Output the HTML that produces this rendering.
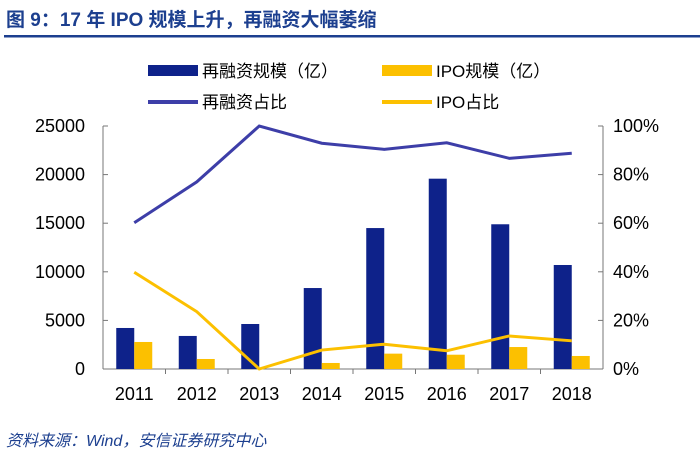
<!DOCTYPE html>
<html><head><meta charset="utf-8"><style>
body{margin:0;background:#fff;width:700px;height:460px;overflow:hidden;font-family:"Liberation Sans","Noto Sans CJK SC",sans-serif}
</style></head><body>
<svg id="c" width="700" height="460" xmlns="http://www.w3.org/2000/svg">
<text x="6" y="26" font-size="19" font-weight="bold" fill="#1c3f8f" font-family="Liberation Sans,Noto Sans CJK SC,sans-serif">图 9：17 年 IPO 规模上升，再融资大幅萎缩</text>
<rect x="4" y="35" width="696" height="2.5" fill="#1c3f8f"/>
<g font-size="17" fill="#000">
<rect x="148" y="65" width="50" height="11" fill="#0e228a"/>
<text x="202" y="77">再融资规模（亿）</text>
<rect x="382" y="65" width="50" height="11" fill="#fcc000"/>
<text x="436" y="77">IPO规模（亿）</text>
<rect x="148" y="100" width="50" height="4" fill="#3d3ea8"/>
<text x="202" y="108">再融资占比</text>
<rect x="382" y="100" width="50" height="4" fill="#fcc000"/>
<text x="436" y="108">IPO占比</text>
</g>
<g id="plot"></g>
<text x="6" y="446" font-size="16" font-style="italic" fill="#1c3f8f">资料来源：Wind，安信证券研究中心</text>
</svg>
<script>
const categories=["2011","2012","2013","2014","2015","2016","2017","2018"];
const refinance=[4220,3400,4630,8330,14500,19580,14890,10700];
const ipo=[2780,1030,0,620,1580,1470,2260,1340];
const refinanceShare=[60.2,77,100,92.9,90.4,93.1,86.7,88.8];
const ipoShare=[39.8,23.6,0,7.8,10.2,7.5,13.6,11.6];
const leftTicks=[0,5000,10000,15000,20000,25000];
const rightTicks=[0,20,40,60,80,100];
const X0=103,X1=603,Y0=369,Y1=126;
const NS="http://www.w3.org/2000/svg";
const g=document.getElementById('plot');
function yL(v){return Y0-(v/25000)*(Y0-Y1);}
function yR(v){return Y0-(v/100)*(Y0-Y1);}
const bw=(X1-X0)/categories.length;
function xc(i){return X0+bw*(i+0.5);}
function mk(t,a){const e=document.createElementNS(NS,t);for(const k in a)e.setAttribute(k,a[k]);g.appendChild(e);return e;}
let e;
e=mk('line',{x1:X0,y1:Y1,x2:X0,y2:Y0,stroke:'#777','stroke-width':1});


e=mk('line',{x1:X1,y1:Y1,x2:X1,y2:Y0,stroke:'#777','stroke-width':1});


e=mk('line',{x1:X0,y1:Y0,x2:X1,y2:Y0,stroke:'#777','stroke-width':1});


leftTicks.forEach(v=>{const y=yL(v);
 mk('line',{x1:X0,y1:y,x2:X0+5,y2:y,stroke:'#777'});
 e=mk('text',{x:X0-18,y:y+6,'font-size':18,'text-anchor':'end'});e.textContent=v;
 
 });
rightTicks.forEach(v=>{const y=yR(v);
 mk('line',{x1:X1-5,y1:y,x2:X1,y2:y,stroke:'#777'});
 e=mk('text',{x:X1+10,y:y+6,'font-size':18});e.textContent=v+'%';
 
 });
categories.forEach((c,i)=>{
 if(i>0)mk('line',{x1:X0+bw*i,y1:Y0,x2:X0+bw*i,y2:Y0+5,stroke:'#777'});
 e=mk('text',{x:xc(i),y:Y0+31,'font-size':18,'text-anchor':'middle'});e.textContent=c;
 
 
 const w=18;
 e=mk('rect',{x:xc(i)-w,y:yL(refinance[i]),width:w,height:Y0-yL(refinance[i]),fill:'#0e228a'});
 
 
 e=mk('rect',{x:xc(i),y:yL(ipo[i]),width:w,height:Y0-yL(ipo[i]),fill:'#fcc000'});
 
 
});
e=mk('polyline',{points:refinanceShare.map((v,i)=>xc(i)+','+yR(v)).join(' '),fill:'none',stroke:'#3d3ea8','stroke-width':3});


e=mk('polyline',{points:ipoShare.map((v,i)=>xc(i)+','+yR(v)).join(' '),fill:'none',stroke:'#fcc000','stroke-width':3});


</script>
</body></html>
